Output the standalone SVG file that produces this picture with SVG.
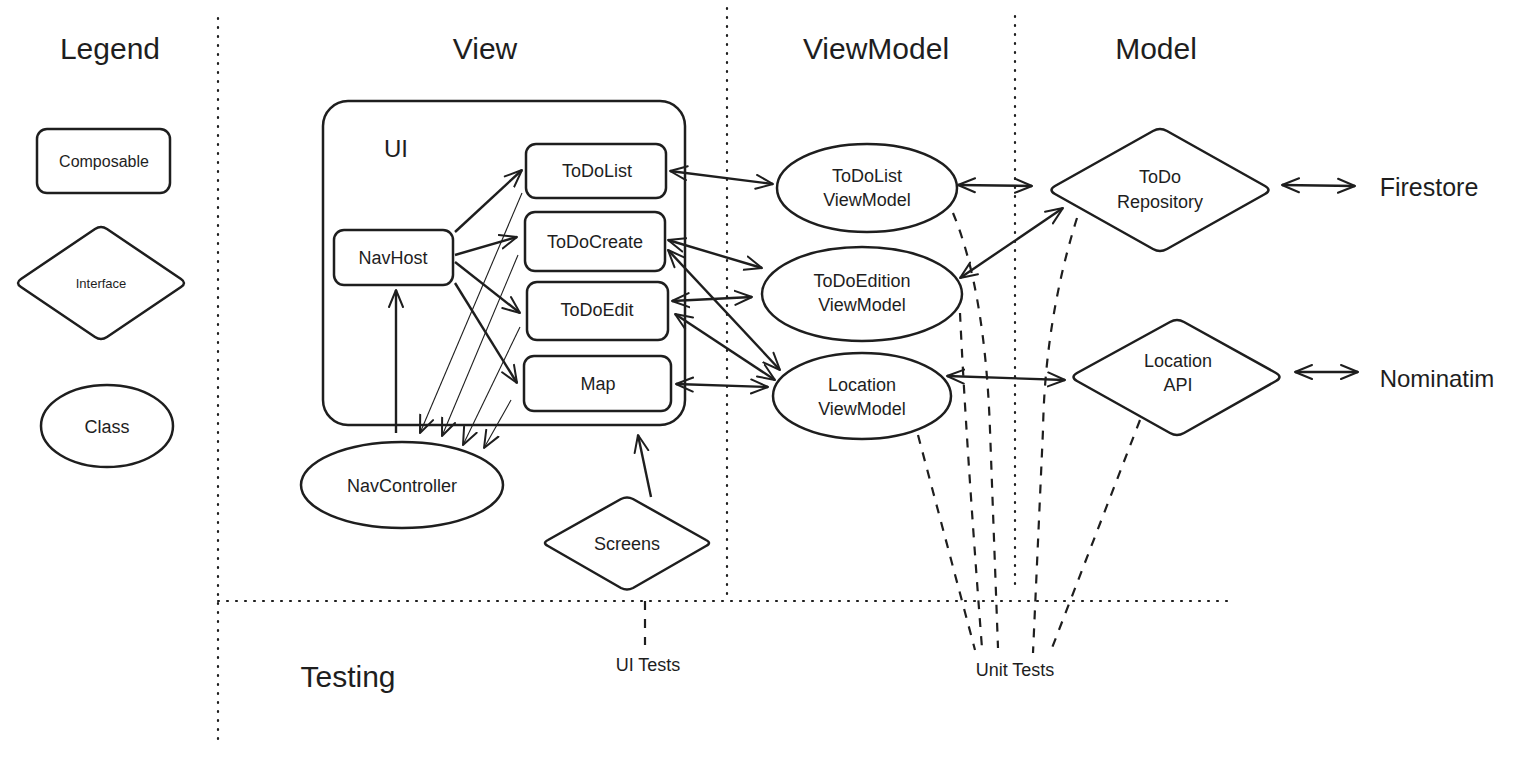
<svg xmlns="http://www.w3.org/2000/svg" width="1513" height="759" viewBox="0 0 1513 759">
<defs>
<style>
text{font-family:"Liberation Sans",Arial,sans-serif;fill:#1e1e1e;text-anchor:middle;dominant-baseline:central}
.t{font-size:30px}
.n{font-size:18px}
.shape{fill:none;stroke:#1e1e1e;stroke-width:2.5;stroke-linejoin:round}
.sep{fill:none;stroke:#1e1e1e;stroke-width:2.2;stroke-dasharray:1 8;stroke-linecap:round}
.a{fill:none;stroke:#1e1e1e;stroke-width:2.4;marker-end:url(#ah)}
.d{fill:none;stroke:#1e1e1e;stroke-width:2.4;marker-end:url(#ah);marker-start:url(#ah)}
.th{fill:none;stroke:#1e1e1e;stroke-width:1.1;marker-end:url(#ah)}
.dash{fill:none;stroke:#1e1e1e;stroke-width:2.2;stroke-dasharray:9 9}
</style>
<marker id="ah" viewBox="0 0 20 20" refX="18" refY="10" markerWidth="20" markerHeight="20" markerUnits="userSpaceOnUse" orient="auto-start-reverse">
<path d="M1,3 L18,10 L1,17" fill="none" stroke="#1e1e1e" stroke-width="2" stroke-linecap="round" stroke-linejoin="round"/>
</marker>
</defs>
<rect width="1513" height="759" fill="#ffffff"/>

<g id="separators">
<line class="sep" x1="218" y1="18" x2="218" y2="745"/>
<line class="sep" x1="727" y1="8" x2="727" y2="600"/>
<line class="sep" x1="1015" y1="16" x2="1015" y2="590"/>
<line class="sep" x1="218" y1="601" x2="1228" y2="601"/>
</g>

<g id="titles">
<text class="t" x="110" y="48">Legend</text>
<text class="t" x="485" y="48">View</text>
<text class="t" x="876" y="48">ViewModel</text>
<text class="t" x="1156" y="48">Model</text>
<text class="t" x="348" y="676">Testing</text>
</g>

<g id="legend-composable"><rect class="shape" x="37" y="129" width="133" height="64" rx="10"/><text class="n" x="104" y="161" style="font-size:16px">Composable</text></g>
<g id="legend-interface"><path class="shape" d="M95,229 Q101,225 107,229 L181,279 Q187,283 181,287 L107,337 Q101,341 95,337 L21,287 Q15,283 21,279 Z"/><text x="101" y="283" style="font-size:13px">Interface</text></g>
<g id="legend-class"><ellipse class="shape" cx="107" cy="426" rx="66" ry="41"/><text class="n" x="107" y="427">Class</text></g>

<g id="ui"><rect class="shape" x="323" y="101" width="362" height="324" rx="25"/><text x="396" y="148" style="font-size:24px">UI</text></g>
<g id="todolist"><rect class="shape" x="526" y="144" width="140" height="54" rx="10"/><text class="n" x="597" y="171">ToDoList</text></g>
<g id="todocreate"><rect class="shape" x="525" y="212" width="140" height="59" rx="10"/><text class="n" x="595" y="242">ToDoCreate</text></g>
<g id="todoedit"><rect class="shape" x="527" y="282" width="141" height="58" rx="10"/><text class="n" x="597" y="310">ToDoEdit</text></g>
<g id="map"><rect class="shape" x="524" y="356" width="147" height="55" rx="10"/><text class="n" x="598" y="384">Map</text></g>
<g id="navhost"><rect class="shape" x="334" y="230" width="119" height="55" rx="10"/><text class="n" x="393" y="258">NavHost</text></g>
<g id="navcontroller"><ellipse class="shape" cx="402" cy="485" rx="101" ry="43"/><text class="n" x="402" y="486">NavController</text></g>
<g id="screens"><path class="shape" d="M621,499 Q627,496 633,499 L706,540 Q712,543 706,546 L633,588 Q627,591 621,588 L548,546 Q542,543 548,540 Z"/><text class="n" x="627" y="544">Screens</text></g>

<g id="todolist-vm"><ellipse class="shape" cx="867" cy="188" rx="90" ry="44"/><text class="n" x="867" y="176">ToDoList</text><text class="n" x="867" y="200">ViewModel</text></g>
<g id="todoedition-vm"><ellipse class="shape" cx="862" cy="294" rx="100" ry="47"/><text class="n" x="862" y="281">ToDoEdition</text><text class="n" x="862" y="305">ViewModel</text></g>
<g id="location-vm"><ellipse class="shape" cx="862" cy="396" rx="89" ry="43"/><text class="n" x="862" y="385">Location</text><text class="n" x="862" y="409">ViewModel</text></g>

<g id="todo-repository"><path class="shape" d="M1153,131 Q1160,127 1167,131 L1265,186 Q1272,190 1265,194 L1167,249 Q1160,253 1153,249 L1055,194 Q1048,190 1055,186 Z"/><text class="n" x="1160" y="177">ToDo</text><text class="n" x="1160" y="202">Repository</text></g>
<g id="location-api"><path class="shape" d="M1170,322 Q1177,318 1184,322 L1276,373 Q1283,377 1276,381 L1184,433 Q1177,437 1170,433 L1077,381 Q1070,377 1077,373 Z"/><text class="n" x="1178" y="361">Location</text><text class="n" x="1178" y="385">API</text></g>
<g id="firestore"><text x="1429" y="187" style="font-size:25px">Firestore</text></g>
<g id="nominatim"><text x="1437" y="378" style="font-size:24px">Nominatim</text></g>
<g id="ui-tests"><text class="n" x="648" y="665">UI Tests</text></g>
<g id="unit-tests"><text class="n" x="1015" y="670">Unit Tests</text></g>

<g id="connectors">
<line class="a" x1="396" y1="433" x2="396" y2="290"/>
<line class="a" x1="651" y1="497" x2="638" y2="435"/>
<line class="a" x1="455" y1="232" x2="522" y2="170"/>
<line class="a" x1="455" y1="255" x2="517" y2="237"/>
<line class="a" x1="455" y1="262" x2="520" y2="313"/>
<line class="a" x1="455" y1="283" x2="517" y2="383"/>
<line class="th" x1="522" y1="193" x2="420" y2="433"/>
<line class="th" x1="518" y1="255" x2="442" y2="436"/>
<line class="th" x1="520" y1="327" x2="463" y2="445"/>
<line class="th" x1="511" y1="400" x2="484" y2="448"/>
<line class="d" x1="670" y1="171" x2="773" y2="184"/>
<line class="d" x1="668" y1="240" x2="762" y2="268"/>
<line class="d" x1="672" y1="301" x2="752" y2="297"/>
<line class="d" x1="668" y1="250" x2="780" y2="370"/>
<line class="d" x1="675" y1="314" x2="775" y2="380"/>
<line class="d" x1="676" y1="384" x2="768" y2="387"/>
<line class="d" x1="958" y1="185" x2="1032" y2="186"/>
<line class="d" x1="960" y1="278" x2="1063" y2="208"/>
<line class="d" x1="947" y1="376" x2="1065" y2="380"/>
<line class="d" x1="1282" y1="185" x2="1355" y2="186"/>
<line class="d" x1="1295" y1="372" x2="1358" y2="372"/>
<line class="dash" x1="645" y1="601" x2="645" y2="645"/>
<path class="dash" d="M918,435 L975,650"/>
<path class="dash" d="M960,313 Q966,440 982,648"/>
<path class="dash" d="M953,213 Q985,290 990,430 L998,648"/>
<path class="dash" d="M1077,218 Q1045,320 1043,430 L1033,653"/>
<path class="dash" d="M1140,420 L1052,648"/>
</g>
</svg>
